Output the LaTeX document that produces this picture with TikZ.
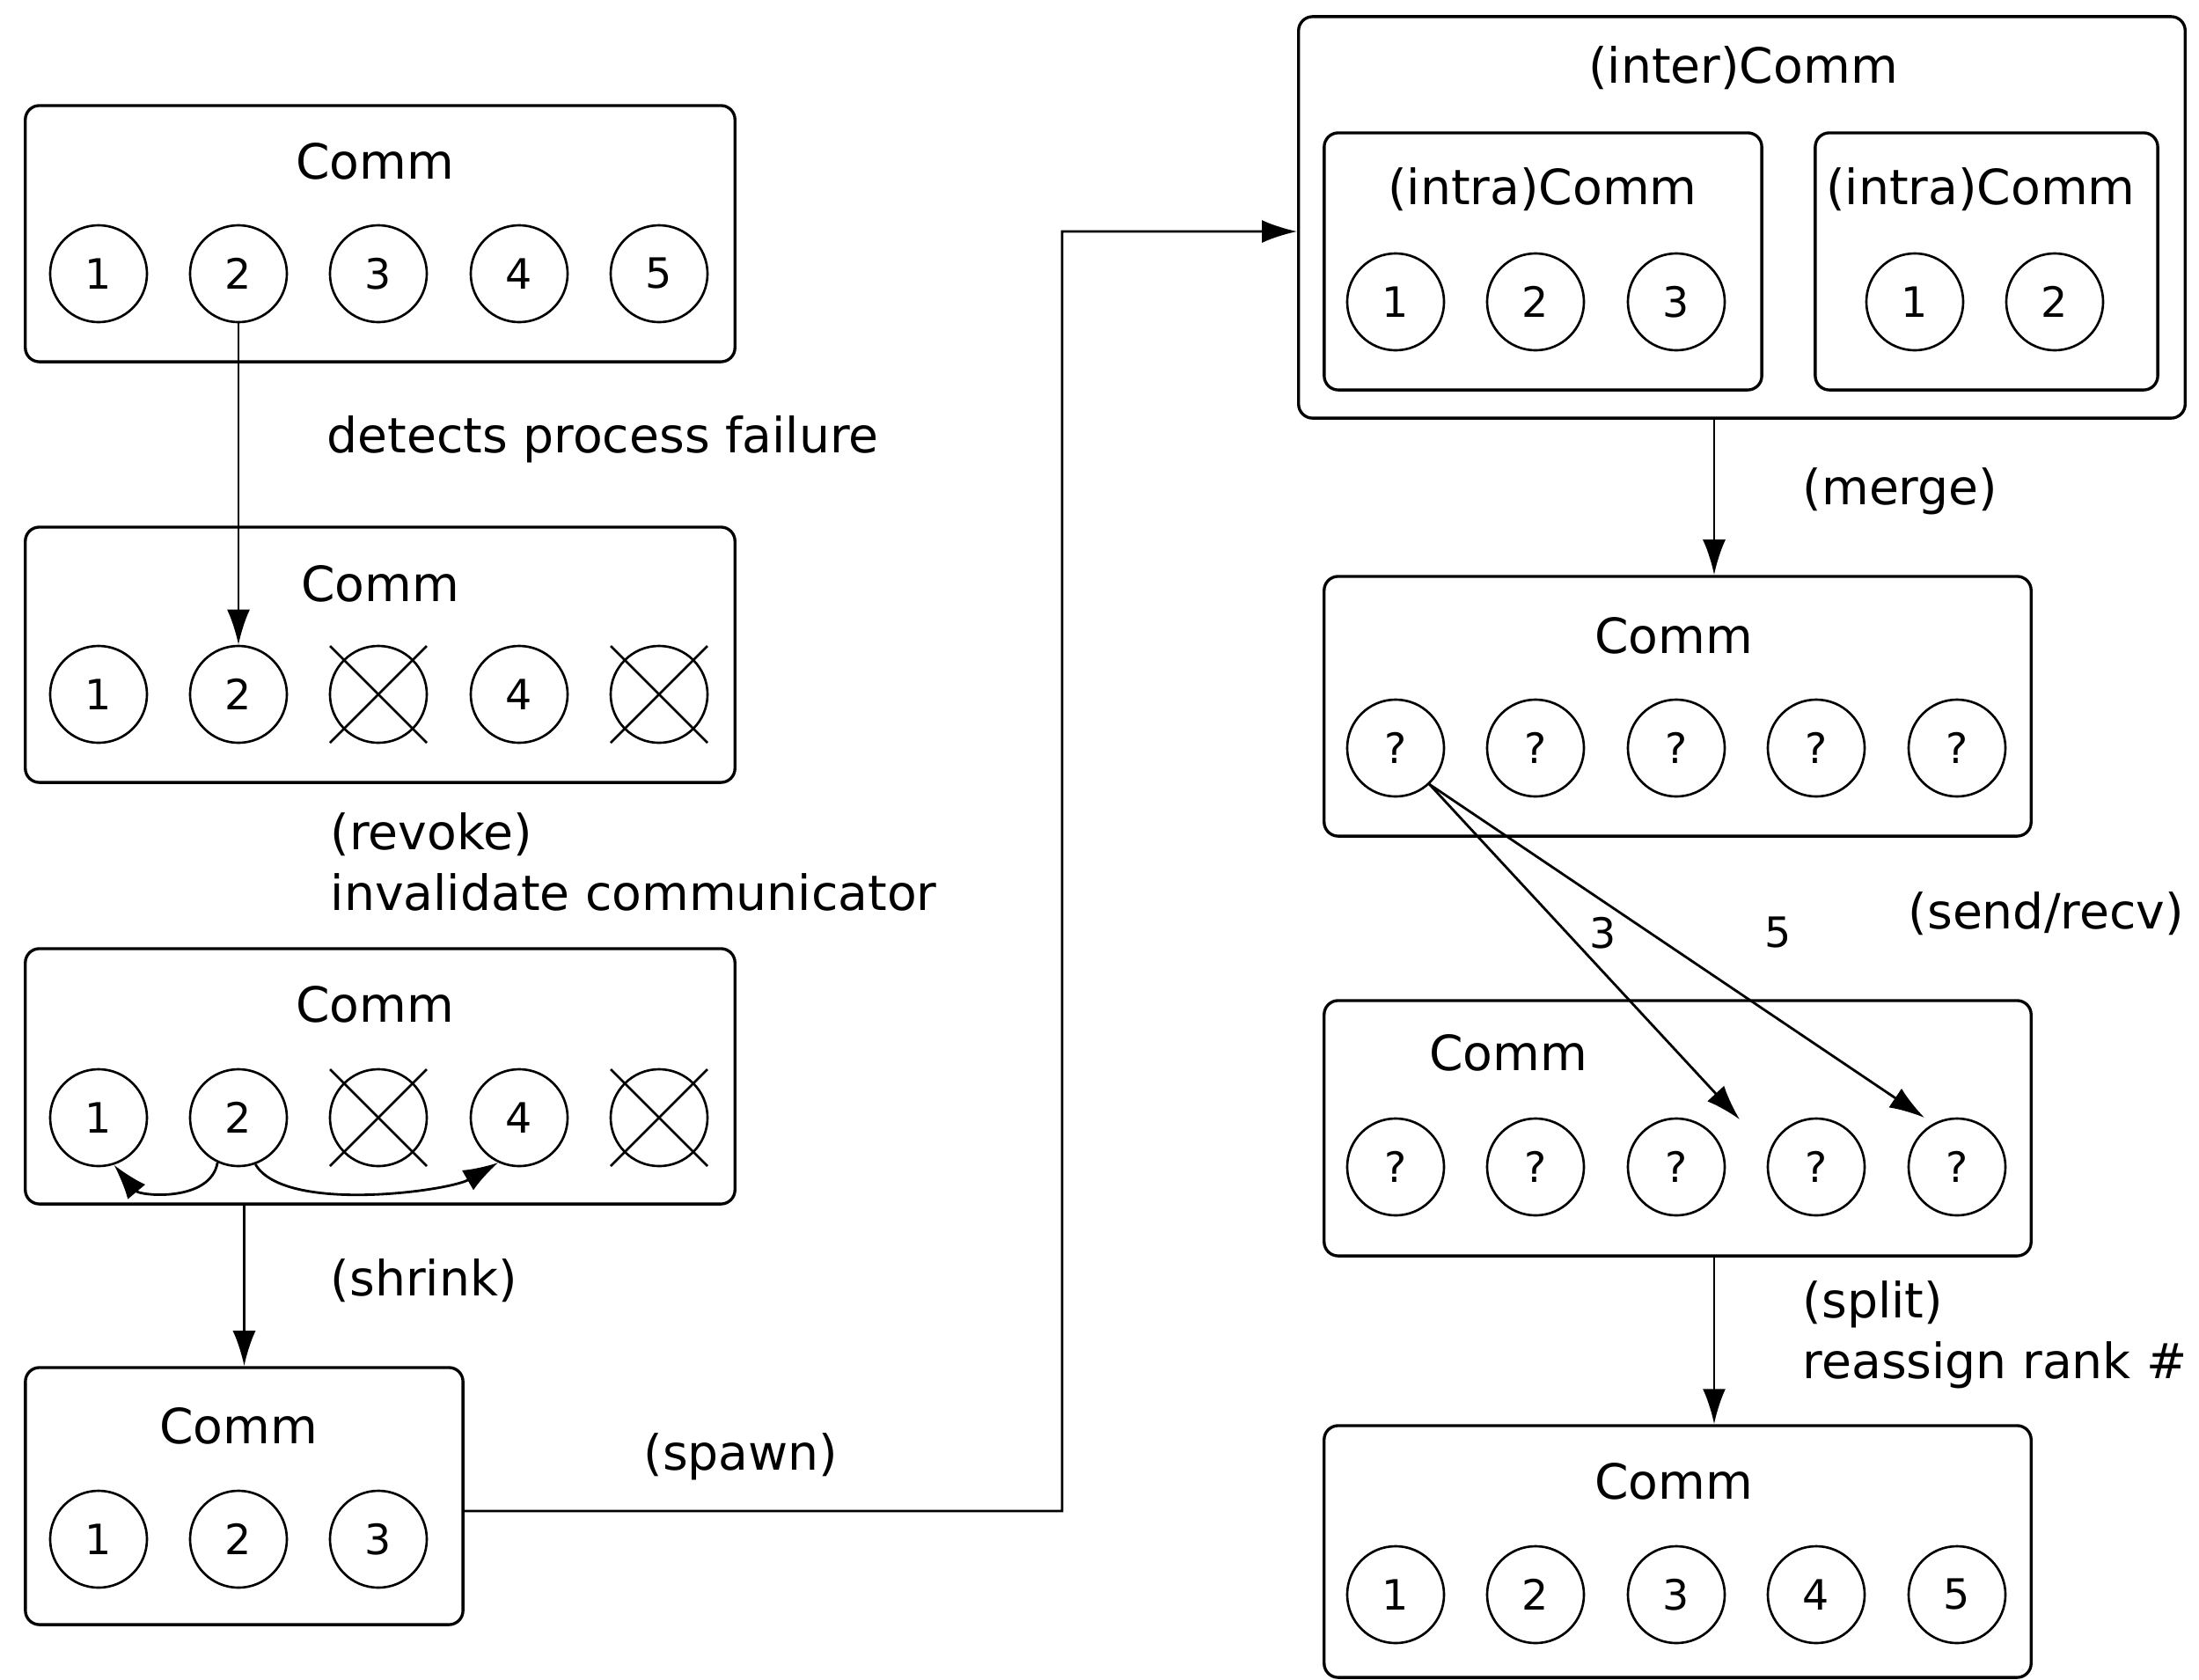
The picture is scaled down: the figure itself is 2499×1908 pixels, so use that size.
\documentclass[tikz,border=0pt]{standalone}
\usepackage{fontspec}
\setmainfont{DejaVu Sans}
\usetikzlibrary{arrows.meta,calc}
\begin{document}
\begin{tikzpicture}[x=0.01cm,y=-0.01cm,
  box/.style={draw, rounded corners=0.16cm, line width=0.95pt, inner sep=0},
  title/.style={font=\fontsize{15.7pt}{19.6pt}\selectfont, inner sep=0},
  lbl/.style={font=\fontsize{15.7pt}{19.6pt}\selectfont, inner sep=0, anchor=west, align=left},
  num/.style={font=\fontsize{13.5pt}{16pt}\selectfont, inner sep=0},
  proc/.style={draw, circle, minimum size=1.1cm, inner sep=0, line width=0.75pt, font=\fontsize{13.5pt}{16pt}\selectfont},
  xl/.style={line width=0.75pt},
  arr/.style={line width=0.8pt, -{Latex[length=0.4cm,width=0.26cm]}},
]
\useasboundingbox (0,0) rectangle (2499,1908);

% ---------- boxes ----------
\node[box, minimum width=8.06cm, minimum height=2.91cm] (A) at (432,265.5) {};
\node[box, minimum width=8.06cm, minimum height=2.90cm] (B) at (432,744) {};
\node[box, minimum width=8.06cm, minimum height=2.90cm] (C) at (432,1223) {};
\node[box, minimum width=4.97cm, minimum height=2.92cm] (D) at (277.5,1700) {};
\node[box, minimum width=10.07cm, minimum height=4.56cm] (E) at (1979.5,247) {};
\node[box, minimum width=4.97cm, minimum height=2.92cm] (E1) at (1753.5,297) {};
\node[box, minimum width=3.89cm, minimum height=2.92cm] (E2) at (2257.5,297) {};
\node[box, minimum width=8.03cm, minimum height=2.95cm] (F) at (1906.5,802.5) {};
\node[box, minimum width=8.03cm, minimum height=2.90cm] (G) at (1906.5,1282) {};
\node[box, minimum width=8.03cm, minimum height=2.86cm] (H) at (1906.5,1763) {};

% ---------- titles ----------
\node[title] (At) at (426,183) {Comm};
\node[title] (Bt) at (432,663) {Comm};
\node[title] (Ct) at (426,1141) {Comm};
\node[title] (Dt) at (271,1620) {Comm};
\node[title] (Et) at (1981,77) {(inter)Comm};
\node[title] (E1t) at (1753,215) {(intra)Comm};
\node[title] (E2t) at (2251,215) {(intra)Comm};
\node[title] (Ft) at (1902,722) {Comm};
\node[title] (Gt) at (1714,1196) {Comm};
\node[title] (Ht) at (1902,1683) {Comm};

% ---------- processes ----------
\node[proc] (A1) at (112,311) {1};
\node[proc] (A2) at (271,311) {2};
\node[proc] (A3) at (430,311) {3};
\node[proc] (A4) at (590,311) {4};
\node[proc] (A5) at (749,311) {5};

\node[proc] (B1) at (112,789) {1};
\node[proc] (B2) at (271,789) {2};
\node[proc] (B3) at (430,789) {};
\node[proc] (B4) at (590,789) {4};
\node[proc] (B5) at (749,789) {};

\node[proc] (C1) at (112,1270) {1};
\node[proc] (C2) at (271,1270) {2};
\node[proc] (C3) at (430,1270) {};
\node[proc] (C4) at (590,1270) {4};
\node[proc] (C5) at (749,1270) {};

\node[proc] (D1) at (112,1749) {1};
\node[proc] (D2) at (271,1749) {2};
\node[proc] (D3) at (430,1749) {3};

\node[proc] (E11) at (1586,343) {1};
\node[proc] (E12) at (1745,343) {2};
\node[proc] (E13) at (1905,343) {3};
\node[proc] (E21) at (2176,343) {1};
\node[proc] (E22) at (2335,343) {2};

\node[proc] (F1) at (1586,850) {?};
\node[proc] (F2) at (1745,850) {?};
\node[proc] (F3) at (1905,850) {?};
\node[proc] (F4) at (2064,850) {?};
\node[proc] (F5) at (2224,850) {?};

\node[proc] (G1) at (1586,1326) {?};
\node[proc] (G2) at (1745,1326) {?};
\node[proc] (G3) at (1905,1326) {?};
\node[proc] (G4) at (2064,1326) {?};
\node[proc] (G5) at (2224,1326) {?};

\node[proc] (H1) at (1586,1812) {1};
\node[proc] (H2) at (1745,1812) {2};
\node[proc] (H3) at (1905,1812) {3};
\node[proc] (H4) at (2064,1812) {4};
\node[proc] (H5) at (2224,1812) {5};

% ---------- crosses on failed processes ----------
\foreach \n in {B3,B5,C3,C5}{
  \draw[xl] ([shift={(-55,-55)}]\n.center) -- ([shift={(55,55)}]\n.center);
  \draw[xl] ([shift={(-55,55)}]\n.center) -- ([shift={(55,-55)}]\n.center);
}

% ---------- labels ----------
\node[lbl] (l1) at (371,499) {detects process failure};
\node[lbl] (l2) at (375,979.5) {(revoke)\\invalidate communicator};
\node[lbl] (l3) at (375,1455) {(shrink)};
\node[title] (l4) at (842,1655) {(spawn)};
\node[lbl] (l5) at (2048,558) {(merge)};
\node[lbl] (l6) at (2168,1038) {(send/recv)};
\node[lbl] (l7) at (2048,1516.5) {(split)\\reassign rank \#};
\node[num] (n3) at (1822,1060) {3};
\node[num] (n5) at (2021,1060) {5};

% ---------- helper coordinates ----------
\coordinate (colx) at (1948,0);
\coordinate (c1) at (1207,1717);
\coordinate (c2) at (1207,263);
\coordinate (t3) at (1977,1272);
\coordinate (t5) at (2187,1270);

% ---------- connectors ----------
\draw[arr] (A2) -- (B2);
\draw[arr] (C2.-115) to[out=-100,in=-50] (C1.-72);
\draw[arr] (C2.-70) to[out=-60,in=-150,looseness=0.6] (C4.-115);
\draw[arr] (C.south -| D.north) -- (D.north);
\draw[arr] ([yshift=-0.17cm]D.east) -- (c1) -- (c2) -- ([yshift=-0.16cm]E.west);
\draw[arr] (E.south -| colx) -- (F.north -| colx);
\draw[arr] (F1.-47) -- (t3);
\draw[arr] (F1.-47) -- (t5);
\draw[arr] (G.south -| colx) -- (H.north -| colx);
\end{tikzpicture}
\end{document}
